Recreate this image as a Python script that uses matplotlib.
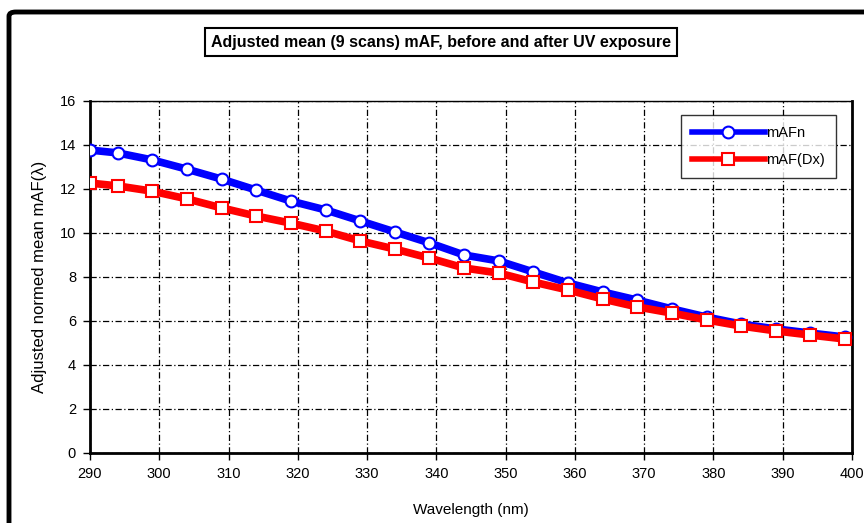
import matplotlib
matplotlib.use("Agg")
import matplotlib.pyplot as plt
from matplotlib.patches import FancyBboxPatch

plt.rcParams['font.family'] = ['Liberation Sans', 'DejaVu Sans']

wavelength = [290, 294, 299, 304, 309, 314, 319, 324, 329, 334, 339, 344,
              349, 354, 359, 364, 369, 374, 379, 384, 389, 394, 399]
maf_n = [13.77, 13.64, 13.32, 12.9, 12.45, 11.95, 11.45, 11.05, 10.55, 10.05,
         9.55, 9.0, 8.73, 8.23, 7.73, 7.32, 6.95, 6.55, 6.18, 5.86, 5.64, 5.45, 5.27]
maf_dx = [12.27, 12.14, 11.9, 11.55, 11.14, 10.77, 10.45, 10.09, 9.64, 9.27,
          8.86, 8.41, 8.18, 7.77, 7.41, 7.0, 6.64, 6.36, 6.05, 5.77, 5.55, 5.36, 5.18]
xticks = list(range(290, 401, 10))
yticks = list(range(0, 17, 2))

fig = plt.figure(figsize=(8.64, 5.23), dpi=100)
ax = fig.add_axes([90/864, 1-453/523, (852-90)/864, (453-101)/523])

# outer border
border = FancyBboxPatch((9/864, -0.05), 1.0, 1.05 - 12/523,
                        boxstyle="round,pad=0,rounding_size=0.008",
                        transform=fig.transFigure, fill=False,
                        edgecolor='black', linewidth=3.5, clip_on=False)
fig.patches.append(border)

ax.plot(wavelength, maf_n, color='#0000FF', linewidth=5.5, marker='o',
        markersize=8.5, markerfacecolor='white', markeredgecolor='#0000FF',
        markeredgewidth=1.5, label='mAFn', zorder=3)
ax.plot(wavelength, maf_dx, color='#FF0000', linewidth=5.5, marker='s',
        markersize=8.5, markerfacecolor='white', markeredgecolor='#FF0000',
        markeredgewidth=1.5, label='mAF(Dx)', zorder=3)

ax.set_xlim(290, 400)
ax.set_ylim(0, 16)
ax.set_xticks(xticks)
ax.set_yticks(yticks)
ax.tick_params(labelsize=10.5, direction='out', length=5, width=1, color='black', pad=5)
ax.grid(True, color='black', linestyle=(0, (5, 2, 1, 2)), linewidth=0.9)
for s in ax.spines.values():
    s.set_color('black')
ax.spines['left'].set_linewidth(2)
ax.spines['bottom'].set_linewidth(2)
ax.spines['top'].set_linewidth(1)
ax.spines['right'].set_linewidth(2)

ax.set_xlabel('Wavelength (nm)', fontsize=11, labelpad=16)
ax.set_ylabel('Adjusted normed mean mAF(λ)', fontsize=12, labelpad=9)

fig.text(441/864, 1-42/523, 'Adjusted mean (9 scans) mAF, before and after UV exposure',
         ha='center', va='center', fontsize=11.5, fontweight='bold',
         bbox=dict(boxstyle='square,pad=0.4', facecolor='white', edgecolor='black', linewidth=1.5))

leg = ax.legend(loc='upper right', bbox_to_anchor=((836-90)/762, 1-(115-101)/352),
                fontsize=10.5, frameon=True, fancybox=False, edgecolor='black',
                borderpad=0.75, labelspacing=0.9, handlelength=5.0, handletextpad=0.1,
                borderaxespad=0)
leg.get_frame().set_linewidth(1)
leg._legend_box.align = 'left'
for h in leg.get_lines():
    h.set_linewidth(4)

# widen the legend frame to the right like the reference
fig.canvas.draw()
leg.borderpad = 0.75

fig.savefig('out.png', dpi=100)
